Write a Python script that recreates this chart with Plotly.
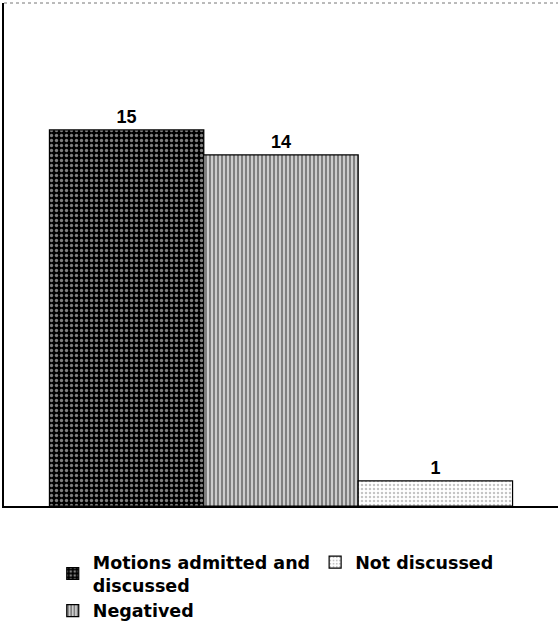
import plotly.graph_objects as go

# Data
series_names = ["Motions admitted and<br>discussed", "Negatived", "Not discussed"]
values = [15, 14, 1]
legend_ranks = [1, 3, 2]
category = [""]

patterns = [
    dict(shape=".", bgcolor="black", fgcolor="white", size=5, solidity=0.35),
    dict(shape="|", bgcolor="white", fgcolor="black", size=4, solidity=0.7),
    dict(shape=".", bgcolor="white", fgcolor="#8a8a8a", size=4, solidity=0.3),
]

fig = go.Figure()
for name, val, rank, pat in zip(series_names, values, legend_ranks, patterns):
    fig.add_trace(go.Bar(
        x=category, y=[val], name=name, legendrank=rank,
        marker=dict(color="white", pattern=pat, line=dict(color="black", width=1.2)),
        text=[str(val)], textposition="outside",
        textfont=dict(family="Liberation Sans", size=18, color="black", weight="bold"),
        cliponaxis=False,
    ))

fig.update_layout(
    width=558, height=627,
    margin=dict(l=4, r=0, t=3, b=121, autoexpand=False),
    paper_bgcolor="white", plot_bgcolor="white",
    barmode="group", bargap=0.164, bargroupgap=0,
    showlegend=True,
    legend=dict(
        orientation="h", x=0.088, xanchor="left", y=-0.076, yanchor="top",
        font=dict(family="DejaVu Sans", size=17.5, color="black", weight="bold"),
        traceorder="normal",
    ),
    xaxis=dict(range=[-0.5, 0.5], showline=True, linecolor="black", linewidth=2,
               showticklabels=False, ticks="", showgrid=False, zeroline=False),
    yaxis=dict(range=[0, 20.06], showline=True, linecolor="black", linewidth=2,
               showticklabels=False, ticks="", showgrid=False, zeroline=False),
    shapes=[dict(type="line", xref="paper", yref="paper", x0=0, x1=1, y0=1, y1=1,
                 line=dict(color="#777777", width=1, dash="dot"))],
)

fig.write_html("out.html")
